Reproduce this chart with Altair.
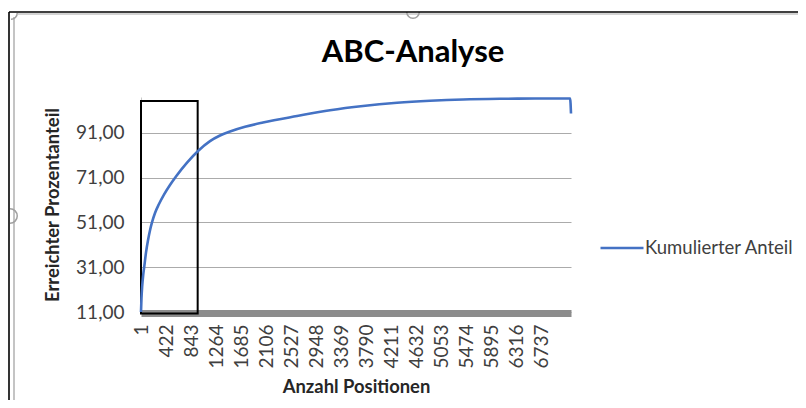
import altair as alt
import pandas as pd

# ---------------- data ----------------
positions = [1, 9, 21, 38, 57, 85, 119, 153, 186, 237, 304, 388, 489, 590,
             776, 961, 1163, 1331, 1500, 1752, 2055, 2628, 3183, 3739, 4312,
             4867, 5423, 6046, 6635, 7225, 7240]
cum_share = [11.0, 17.0, 22.5, 27.5, 31.5, 37.5, 43.0, 47.5, 51.0, 55.2,
             59.2, 63.4, 67.7, 71.5, 77.7, 82.9, 87.3, 89.8, 91.6, 93.7,
             95.6, 98.5, 101.1, 103.0, 104.4, 105.3, 105.9, 106.2, 106.3,
             106.3, 99.6]
series_name = "Kumulierter Anteil"
chart_title = "ABC-Analyse"
x_tick_values = [1, 422, 843, 1264, 1685, 2106, 2527, 2948, 3369, 3790,
                 4211, 4632, 5053, 5474, 5895, 6316, 6737]
y_tick_values = [11, 31, 51, 71, 91]
a_box_positions = [1, 955]
a_box_share = [10.3, 105.25]

FONT = "Lato"

line_df = pd.DataFrame({"Position": positions, "Anteil": cum_share,
                        "Serie": [series_name] * len(positions)})
box_df = pd.DataFrame({"Position": [a_box_positions[0]], "x2": [a_box_positions[1]],
                       "Anteil": [a_box_share[0]], "y2": [a_box_share[1]]})
one = pd.DataFrame({"a": [0]})
title_df = pd.DataFrame({"t": [chart_title]})

x_scale = alt.Scale(domain=[1, 7240], nice=False, zero=False)
y_scale = alt.Scale(domain=[11, 107], nice=False, zero=False)

x_axis = alt.Axis(values=x_tick_values, format="d", labelAngle=270,
                  title="Anzahl Positionen", grid=False, ticks=False,
                  domainColor="#8C8C8C", domainWidth=7, offset=1, labelPadding=11,
                  labelFontSize=19, labelColor="#404040", labelFont=FONT,
                  labelOverlap=False, titleFont=FONT, titleFontSize=18.4,
                  titleFontWeight="bold", titleColor="#262626", titleY=64,
                  titleBaseline="top")
y_axis = alt.Axis(values=y_tick_values,
                  labelExpr="replace(format(datum.value, '.2f'), '.', ',')",
                  title="Erreichter Prozentanteil", grid=True, gridColor="#ABABAB",
                  gridWidth=1, ticks=False, domainColor="#C8C8C8", labelPadding=17,
                  labelFontSize=19, labelColor="#404040", labelFont=FONT,
                  labelOverlap=False, titleFont=FONT, titleFontSize=18.4,
                  titleFontWeight="bold", titleColor="#262626", titleX=-89,
                  titleAngle=270, titleBaseline="middle")

line = alt.Chart(line_df).mark_line(strokeWidth=2.6, interpolate="monotone").encode(
    x=alt.X("Position:Q", scale=x_scale, axis=x_axis),
    y=alt.Y("Anteil:Q", scale=y_scale, axis=y_axis),
    color=alt.Color("Serie:N", scale=alt.Scale(range=["#4472C4"]),
                    legend=alt.Legend(title=None, orient="none", legendX=458,
                                      legendY=128, symbolType="stroke",
                                      symbolSize=1849, symbolStrokeWidth=2.5,
                                      labelFontSize=18.5, labelFont=FONT,
                                      labelColor="#404040", labelOffset=0,
                                      padding=0)),
)

box = alt.Chart(box_df).mark_rect(fillOpacity=0, stroke="black", strokeWidth=2).encode(
    x=alt.X("Position:Q", scale=x_scale, axis=x_axis), x2="x2:Q",
    y=alt.Y("Anteil:Q", scale=y_scale, axis=y_axis), y2="y2:Q",
)

title_mark = alt.Chart(title_df).mark_text(font=FONT, fontSize=31, fontWeight="bold",
                                           color="#000000", align="center",
                                           baseline="alphabetic").encode(
    text="t:N", x=alt.value(272), y=alt.value(-35))

# frame decorations of the screenshot
frame_black_v = alt.Chart(one).mark_rule(color="black", strokeWidth=1.6).encode(
    x=alt.value(-132), y=alt.value(-85), y2=alt.value(311))
frame_black_h = alt.Chart(one).mark_rule(color="black", strokeWidth=1.6).encode(
    x=alt.value(-132), x2=alt.value(665), y=alt.value(-85))
frame_gray_v = alt.Chart(one).mark_rule(color="#C4C4C4", strokeWidth=2).encode(
    x=alt.value(-127), y=alt.value(-80), y2=alt.value(311))
frame_gray_h = alt.Chart(one).mark_rule(color="#C4C4C4", strokeWidth=1.5).encode(
    x=alt.value(-123), x2=alt.value(665), y=alt.value(-83))
handle_top = alt.Chart(one).mark_arc(theta=1.5708, theta2=4.7124, radius=7,
                                     radius2=5.5, color="#A0A0A0").encode(
    x=alt.value(272), y=alt.value(-85))
handle_left = alt.Chart(one).mark_arc(theta=0.0001, theta2=3.1416, radius=8,
                                      radius2=6.5, color="#A0A0A0").encode(
    x=alt.value(-131), y=alt.value(119))
handle_corner = alt.Chart(one).mark_arc(theta=1.5708, theta2=3.1416, radius=7,
                                        radius2=5.5, color="#A0A0A0").encode(
    x=alt.value(-130), y=alt.value(-84))

chart = alt.layer(
    frame_gray_v, frame_gray_h, handle_top, handle_left, handle_corner,
    frame_black_v, frame_black_h, box, line, title_mark
).properties(
    width=430, height=215,
    background="white",
    autosize=alt.AutoSizeParams(type="none"),
    padding={"left": 133, "top": 89, "right": 227, "bottom": 88},
).configure_view(stroke="transparent", strokeWidth=0)

chart.save("out.html", embed_options={"renderer": "svg", "actions": False})
